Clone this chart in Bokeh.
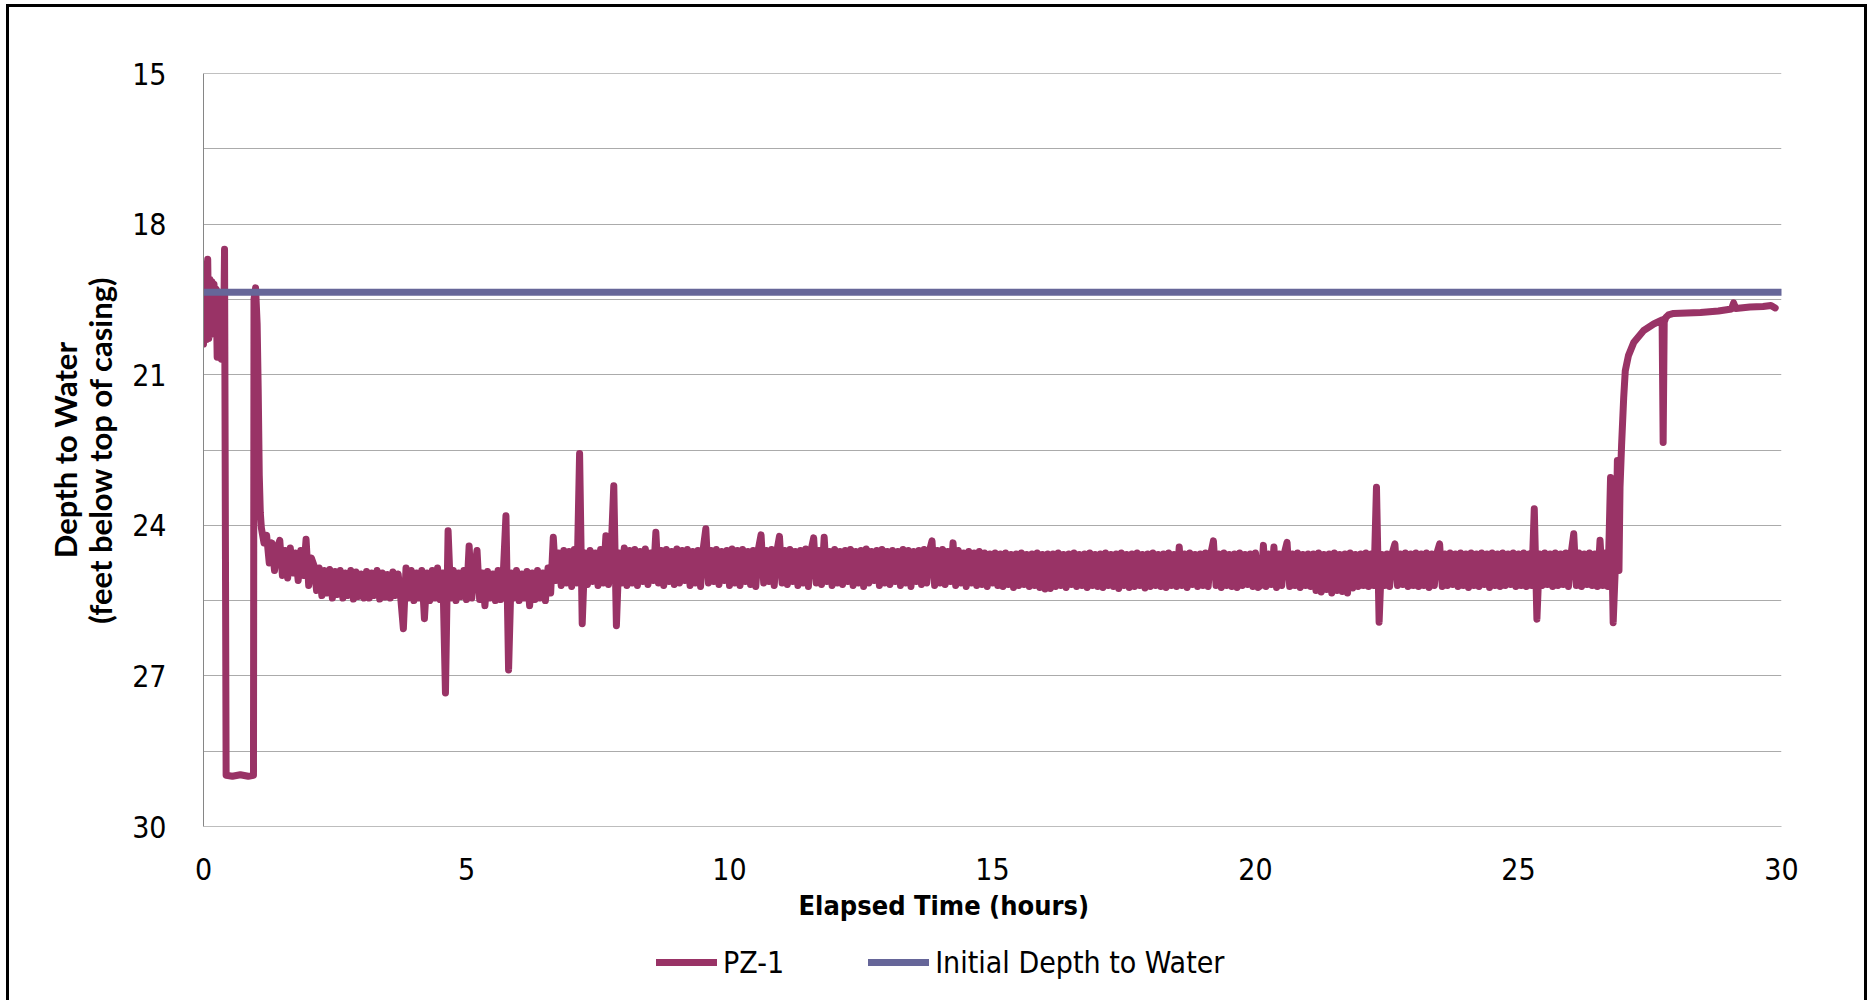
from bokeh.plotting import figure
from bokeh.layouts import column
from bokeh.models import Range1d, FixedTicker, Legend, LegendItem, Span, Title
from bokeh.embed import file_html
from bokeh.resources import INLINE

# ---------------- data ----------------
X_TICKS = [0, 5, 10, 15, 20, 25, 30]
Y_TICKS = [15, 18, 21, 24, 27, 30]
Y_MINOR = [16.5, 19.5, 22.5, 25.5, 28.5]

SERIES_NAMES = ["PZ-1", "Initial Depth to Water"]

# PZ-1, start of test (hours, feet below top of casing)
EARLY_T = [0.00, 0.02, 0.04, 0.06, 0.08, 0.10, 0.12, 0.14, 0.16, 0.18,
           0.20, 0.22, 0.24, 0.26, 0.28, 0.30, 0.32, 0.34, 0.36, 0.38,
           0.40, 0.43, 0.55, 0.70, 0.85, 0.95, 0.96, 0.99, 1.02, 1.04,
           1.06, 1.08]
EARLY_D = [20.39, 19.20, 18.79, 20.30, 18.70, 20.28, 19.10, 20.20, 19.15, 20.10,
           19.20, 20.06, 19.30, 20.65, 19.35, 20.40, 19.60, 20.69, 19.50, 20.50,
           18.50, 28.98, 29.00, 28.97, 29.00, 28.98, 19.50, 19.27, 20.00, 21.30,
           23.00, 23.75]

# PZ-1, logger readings every 0.05 h from 1.10 h to 26.85 h
NOISE_START_H = 1.10
LOG_STEP_H = 0.05
NOISE_D = [
    # 1.10 - 2.05
    24.05, 24.35, 24.20, 24.75, 24.35, 24.90, 24.45, 24.30, 25.00, 24.50,
    25.05, 24.45, 24.95, 24.55, 25.10, 24.50, 25.00, 24.28, 25.20, 24.65,
    # 2.10 - 3.05
    24.80, 25.30, 24.85, 25.40, 24.90, 25.35, 24.88, 25.45, 24.92, 25.38,
    24.90, 25.45, 24.95, 25.40, 24.90, 25.47, 24.93, 25.42, 24.97, 25.45,
    # 3.10 - 4.05
    24.92, 25.45, 24.95, 25.40, 24.90, 25.47, 24.95, 25.43, 24.98, 25.45,
    24.93, 25.40, 24.97, 25.45, 26.06, 24.85, 25.45, 24.90, 25.50, 24.95,
    # 4.10 - 5.05
    25.45, 24.90, 25.86, 24.95, 25.50, 24.90, 25.45, 24.85, 25.48, 24.95,
    27.34, 24.11, 25.45, 24.90, 25.50, 24.95, 25.42, 24.90, 25.48, 24.41,
    # 5.10 - 6.05
    25.45, 24.90, 24.50, 25.48, 24.95, 25.60, 24.92, 25.45, 24.97, 25.50,
    24.90, 25.48, 24.95, 23.81, 26.88, 24.95, 25.45, 24.90, 25.50, 24.97,
    # 6.10 - 7.05
    25.45, 24.92, 25.60, 24.95, 25.48, 24.90, 25.45, 24.95, 25.50, 24.85,
    25.35, 24.24, 25.10, 24.55, 25.20, 24.50, 25.15, 24.52, 25.22, 24.48,
    # 7.10 - 8.05
    25.15, 22.57, 25.96, 24.55, 25.18, 24.50, 25.12, 24.55, 25.20, 24.48,
    25.15, 24.21, 25.18, 24.50, 23.21, 26.00, 24.55, 25.15, 24.45, 25.20,
    # 8.10 - 9.05
    24.50, 25.15, 24.48, 25.20, 24.52, 25.12, 24.47, 25.18, 24.55, 25.10,
    24.14, 25.15, 24.50, 25.20, 24.48, 25.12, 24.52, 25.18, 24.47, 25.15,
    # 9.10 - 10.05
    24.50, 25.10, 24.48, 25.20, 24.52, 25.15, 24.50, 25.22, 24.47, 24.07,
    25.15, 24.50, 25.12, 24.48, 25.18, 24.52, 25.10, 24.50, 25.20, 24.47,
    # 10.10 - 11.05
    25.15, 24.50, 25.20, 24.48, 25.12, 24.52, 25.18, 24.50, 25.22, 24.47,
    24.19, 25.15, 24.50, 25.12, 24.48, 25.20, 24.52, 24.22, 25.15, 24.50,
    # 11.10 - 12.05
    25.18, 24.48, 25.12, 24.52, 25.20, 24.50, 25.15, 24.47, 25.22, 24.50,
    24.25, 25.15, 24.50, 25.18, 24.24, 25.12, 24.52, 25.20, 24.48, 25.15,
    # 12.10 - 13.05
    24.52, 25.18, 24.50, 25.12, 24.48, 25.20, 24.52, 25.15, 24.50, 25.22,
    24.47, 25.15, 24.52, 25.10, 24.50, 25.20, 24.48, 25.15, 24.52, 25.18,
    # 13.10 - 14.05
    24.50, 25.12, 24.52, 25.20, 24.48, 25.15, 24.50, 25.22, 24.52, 25.12,
    24.50, 25.18, 24.48, 25.15, 24.52, 24.31, 25.20, 24.50, 25.15, 24.48,
    # 14.10 - 15.05
    25.18, 24.52, 25.12, 24.35, 25.20, 24.50, 25.15, 24.55, 25.22, 24.52,
    25.15, 24.55, 25.20, 24.52, 25.18, 24.55, 25.22, 24.57, 25.15, 24.55,
    # 15.10 - 16.05
    25.20, 24.57, 25.22, 24.55, 25.18, 24.58, 25.24, 24.57, 25.20, 24.55,
    25.18, 24.58, 25.22, 24.57, 25.20, 24.55, 25.24, 24.58, 25.27, 24.57,
    # 16.10 - 17.05
    25.26, 24.57, 25.22, 24.55, 25.20, 24.58, 25.24, 24.57, 25.18, 24.55,
    25.22, 24.58, 25.20, 24.57, 25.24, 24.55, 25.20, 24.58, 25.22, 24.57,
    # 17.10 - 18.05
    25.24, 24.55, 25.20, 24.58, 25.22, 24.57, 25.26, 24.55, 25.20, 24.58,
    25.24, 24.57, 25.22, 24.55, 25.20, 24.58, 25.25, 24.57, 25.22, 24.55,
    # 18.10 - 19.05
    25.20, 24.58, 25.22, 24.57, 25.24, 24.55, 25.20, 24.58, 25.22, 24.43,
    25.20, 24.57, 25.24, 24.55, 25.18, 24.58, 25.22, 24.57, 25.20, 24.55,
    # 19.10 - 20.05
    25.22, 24.57, 24.31, 25.20, 24.57, 25.24, 24.55, 25.20, 24.58, 25.22,
    24.57, 25.24, 24.55, 25.20, 24.58, 25.18, 24.57, 25.22, 24.55, 25.24,
    # 20.10 - 21.05
    25.20, 24.40, 25.22, 24.57, 25.18, 24.43, 25.24, 24.57, 25.20, 24.55,
    24.34, 25.22, 24.57, 25.20, 24.55, 25.24, 24.58, 25.20, 24.57, 25.22,
    # 21.10 - 22.05
    24.57, 25.30, 24.55, 25.33, 24.58, 25.28, 24.57, 25.35, 24.55, 25.30,
    24.58, 25.32, 24.57, 25.35, 24.55, 25.25, 24.58, 25.22, 24.57, 25.20,
    # 22.10 - 23.05
    24.55, 25.22, 24.57, 25.20, 23.24, 25.93, 24.58, 25.20, 24.57, 25.22,
    24.55, 24.37, 25.20, 24.57, 25.18, 24.55, 25.22, 24.57, 25.20, 24.55,
    # 23.10 - 24.05
    25.22, 24.57, 25.20, 24.55, 25.24, 24.57, 25.20, 24.55, 24.37, 25.22,
    24.57, 25.20, 24.55, 25.18, 24.57, 25.22, 24.55, 25.20, 24.57, 25.24,
    # 24.10 - 25.05
    24.55, 25.20, 24.57, 25.22, 24.55, 25.18, 24.57, 25.24, 24.55, 25.20,
    24.57, 25.22, 24.55, 25.20, 24.57, 25.18, 24.55, 25.22, 24.57, 25.20,
    # 25.10 - 26.05
    24.55, 25.22, 24.57, 25.20, 23.67, 25.87, 24.57, 25.20, 24.55, 25.18,
    24.57, 25.22, 24.55, 25.20, 24.57, 25.18, 24.55, 25.22, 24.57, 24.17,
    # 26.10 - 26.85
    25.20, 24.55, 25.22, 24.57, 25.18, 24.55, 25.20, 24.57, 25.22, 24.30,
    25.20, 24.55, 25.22, 23.05, 25.94, 24.60,
]

# PZ-1, recovery
LATE_T = [26.88, 26.91, 26.93, 26.96, 27.00, 27.03, 27.09, 27.19, 27.38, 27.57,
          27.73, 27.75, 27.77, 27.80, 27.85, 27.95, 28.20, 28.46, 28.80, 29.05,
          29.09, 29.13, 29.40, 29.65, 29.80, 29.88]
LATE_D = [22.71, 24.90, 23.24, 22.40, 21.45, 20.92, 20.62, 20.36, 20.12, 19.99,
          19.91, 22.35, 19.95, 19.86, 19.81, 19.78, 19.77, 19.76, 19.73, 19.69,
          19.57, 19.68, 19.65, 19.64, 19.62, 19.67]

INITIAL_T = [0, 30]
INITIAL_D = [19.36, 19.36]

noise_t = [round(NOISE_START_H + i * LOG_STEP_H, 2) for i in range(len(NOISE_D))]
pz_t = EARLY_T + noise_t + LATE_T
pz_d = EARLY_D + NOISE_D + LATE_D

# ---------------- styles ----------------
NARROW = "'DejaVu Sans Condensed', 'Liberation Sans Narrow', Roboto, sans-serif"
PZ_COLOR = "#993366"
INIT_COLOR = "#666699"
PZ_WIDTH = 7
INIT_WIDTH = 7
W = 1855
H_MAIN = 928
H_LEG = 65

# ---------------- main chart ----------------
p = figure(width=W, height=H_MAIN, x_range=Range1d(0, 30), y_range=Range1d(30, 15),
           output_backend="svg", toolbar_location=None,
           min_border_left=194, min_border_top=66, min_border_right=83,
           min_border_bottom=H_MAIN - 819)
p.outline_line_color = None
p.background_fill_color = "white"
p.border_fill_color = "white"

r_pz = p.line(pz_t, pz_d, line_color=PZ_COLOR, line_width=PZ_WIDTH,
              line_join="round", line_cap="round")
r_init = p.line(INITIAL_T, INITIAL_D, line_color=INIT_COLOR, line_width=INIT_WIDTH,
                line_cap="round")

yt = FixedTicker(ticks=Y_TICKS, minor_ticks=Y_MINOR)
xt = FixedTicker(ticks=X_TICKS)
p.yaxis.ticker = yt
p.ygrid.ticker = yt
p.xaxis.ticker = xt
p.xgrid.visible = False
p.ygrid.grid_line_color = "#ababab"
p.ygrid.grid_line_width = 1
p.ygrid.minor_grid_line_color = "#ababab"
p.ygrid.minor_grid_line_width = 1

p.add_layout(Span(location=15, dimension="width", line_color="#828282", line_width=1))

for ax in (p.xaxis, p.yaxis):
    ax.major_tick_line_color = None
    ax.minor_tick_line_color = None
    ax.major_label_text_font = NARROW
    ax.major_label_text_font_size = "30px"
    ax.major_label_text_color = "black"

p.yaxis.axis_line_color = "#868686"
p.yaxis.major_label_standoff = 31
p.yaxis.axis_label = "Depth to Water\n(feet below top of casing)"
p.yaxis.axis_label_text_font = "Lato"
p.yaxis.axis_label_text_font_style = "bold"
p.yaxis.axis_label_text_font_size = "31px"
p.yaxis.axis_label_text_color = "black"
p.yaxis.axis_label_standoff = 10
p.yaxis.axis_label_text_line_height = 0.92

p.xaxis.axis_line_color = "#bdbdbd"
p.xaxis.major_label_standoff = 25

x_title = Title(text="Elapsed Time (hours)", align="left", offset=595,
                text_font=NARROW, text_font_style="bold",
                text_font_size="27px", text_color="black", standoff=10)
p.add_layout(x_title, "below")

# ---------------- legend strip ----------------
# The strip's ranges keep both series out of view; only the legend shows.
q = figure(width=W, height=H_LEG, x_range=Range1d(0, 1), y_range=Range1d(0, 1),
           output_backend="svg", toolbar_location=None,
           x_axis_location=None, y_axis_location=None, min_border=0)
q.grid.visible = False
q.outline_line_color = None
q.background_fill_color = "white"
q.border_fill_color = "white"
k_pz = q.line(pz_t, pz_d, line_color=PZ_COLOR, line_width=PZ_WIDTH, line_cap="round")
k_init = q.line(INITIAL_T, INITIAL_D, line_color=INIT_COLOR, line_width=INIT_WIDTH,
                line_cap="round")

legend = Legend(items=[LegendItem(label=SERIES_NAMES[0], renderers=[k_pz]),
                       LegendItem(label=SERIES_NAMES[1], renderers=[k_init])],
                orientation="horizontal", location=(453, 18),
                padding=0, margin=0, spacing=84,
                glyph_width=61, glyph_height=40, label_height=40,
                label_standoff=6, border_line_color=None,
                background_fill_alpha=0,
                label_text_font=NARROW, label_text_font_size="30px",
                label_text_color="black")
q.add_layout(legend)

layout = column(p, q, spacing=0)
layout.styles = {"margin-left": "6px", "margin-top": "4px",
                 "border-top": "3px solid black", "border-left": "3px solid black",
                 "border-right": "3px solid black"}

open("out.html", "w").write(file_html(layout, INLINE))
